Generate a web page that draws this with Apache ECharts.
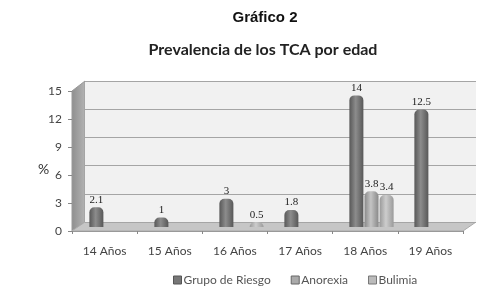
<!DOCTYPE html>
<html>
<head>
<meta charset="utf-8">
<script src="https://cdn.jsdelivr.net/npm/echarts@6/dist/echarts.min.js"></script>
<style>
  html, body { margin: 0; padding: 0; background: #fff; }
  #chart { width: 493px; height: 293px; }
</style>
</head>
<body>
<div id="chart"></div>
<script>
const categories = ["14 Años", "15 Años", "16 Años", "17 Años", "18 Años", "19 Años"];
const grupoRiesgo = [2.1, 1, 3, 1.8, 14, 12.5];
const anorexia = [0, 0, 0, 0, 3.8, 0];
const bulimia = [0, 0, 0.5, 0, 3.4, 0];
const yTicks = [0, 3, 6, 9, 12, 15];

const W = 493, H = 293;
// front plane (axis labels), back plane (wall), middle plane (bars)
const front = { left: 72, right: 30, top: 91, bottom: 62 };
const back = { left: 85, right: 17, top: 81, bottom: 71 };
const mid = { left: 79, right: 24, top: 86, bottom: 66 };

function cyl(edge, center) {
    return {
        type: "linear", x: 0, y: 0, x2: 1, y2: 0,
        colorStops: [
            { offset: 0, color: edge },
            { offset: 0.45, color: center },
            { offset: 1, color: edge }
        ]
    };
}

function barSeries(name, data, edge, center) {
    return {
        name: name,
        type: "bar",
        xAxisIndex: 2,
        yAxisIndex: 2,
        data: data,
        barWidth: 14,
        barGap: "8%",
        z: 5,
        itemStyle: { color: cyl(edge, center), borderRadius: [5, 5, 0, 0] },
        label: {
            show: true,
            position: "top",
            distance: 2,
            color: "#222",
            fontFamily: "Liberation Serif",
            fontSize: 11,
            formatter: p => (p.value ? String(p.value) : "")
        }
    };
}

const chart = echarts.init(document.getElementById("chart"));

const fx0 = front.left, fx1 = W - front.right, fy0 = front.top, fy1 = H - front.bottom;
const bx0 = back.left, bx1 = W - back.right, by0 = back.top, by1 = H - back.bottom;

chart.setOption({
    animation: false,
    title: [
        {
            text: "Gráfico 2",
            left: 260, top: 5, textAlign: "center",
            textStyle: { fontFamily: "Liberation Sans", fontWeight: "bold", fontSize: 15, color: "#111" }
        },
        {
            text: "Prevalencia de los TCA por edad",
            left: 258, top: 37, textAlign: "center",
            textStyle: { fontFamily: "Lato", fontWeight: "bold", fontSize: 16, color: "#222" }
        },
        {
            text: "%",
            left: 33, top: 157,
            textStyle: { fontFamily: "Lato", fontWeight: "normal", fontSize: 14, color: "#333" }
        }
    ],
    legend: {
        bottom: 2,
        left: 168,
        itemWidth: 8,
        itemHeight: 8,
        itemGap: 20,
        textStyle: { fontFamily: "Lato", fontSize: 12, color: "#555", padding: [0, 0, 0, -3] },
        data: [
            { name: "Grupo de Riesgo", icon: "rect", itemStyle: { color: "#777", borderColor: "#555", borderWidth: 1 } },
            { name: "Anorexia", icon: "rect", itemStyle: { color: "#aaa", borderColor: "#666", borderWidth: 1 } },
            { name: "Bulimia", icon: "rect", itemStyle: { color: "#bbb", borderColor: "#777", borderWidth: 1 } }
        ]
    },
    graphic: [
        {   // left wall
            type: "polygon", z: -1,
            shape: { points: [[fx0, fy1], [fx0, fy0], [bx0, by0], [bx0, by1]] },
            style: {
                fill: { type: "linear", x: 0, y: 0, x2: 1, y2: 0,
                    colorStops: [{ offset: 0, color: "#8e8e8e" }, { offset: 1, color: "#b4b4b4" }] },
                stroke: "#999"
            }
        },
        {   // floor
            type: "polygon", z: -1,
            shape: { points: [[fx0, fy1], [bx0, by1], [bx1, by1], [fx1, fy1]] },
            style: { fill: "#c6c6c6", stroke: "#aaa" }
        }
    ],
    grid: [
        Object.assign({}, front),
        Object.assign({ show: true, backgroundColor: "#f1f1f1", borderWidth: 0 }, back),
        Object.assign({}, mid)
    ],
    xAxis: [
        {
            gridIndex: 0, type: "category", data: categories,
            axisLine: { lineStyle: { color: "#999" } },
            axisTick: { show: true, length: 3, lineStyle: { color: "#888" } },
            axisLabel: { color: "#444", fontFamily: "Lato", fontSize: 12, margin: 14 }
        },
        { gridIndex: 1, type: "category", data: categories, show: false },
        { gridIndex: 2, type: "category", data: categories, show: false }
    ],
    yAxis: [
        {
            gridIndex: 0, type: "value", min: 0, max: 15, interval: 3,
            axisLine: { show: false },
            axisTick: { show: true, length: 4, lineStyle: { color: "#888" } },
            splitLine: { show: false },
            axisLabel: {
                color: "#444", fontFamily: "Lato", fontSize: 12, margin: 10,
                formatter: v => (yTicks.includes(v) ? String(v) : "")
            }
        },
        {
            gridIndex: 1, type: "value", min: 0, max: 15, interval: 3,
            axisLine: { show: false }, axisTick: { show: false }, axisLabel: { show: false },
            splitLine: { show: true, lineStyle: { color: "#a5a5a5", width: 1 } }
        },
        { gridIndex: 2, type: "value", min: 0, max: 15, interval: 3, show: false, splitLine: { show: false } }
    ],
    series: [
        barSeries("Grupo de Riesgo", grupoRiesgo, "#585858", "#8c8c8c"),
        barSeries("Anorexia", anorexia, "#8a8a8a", "#c4c4c4"),
        barSeries("Bulimia", bulimia, "#9a9a9a", "#cdcdcd")
    ]
});
</script>
</body>
</html>
